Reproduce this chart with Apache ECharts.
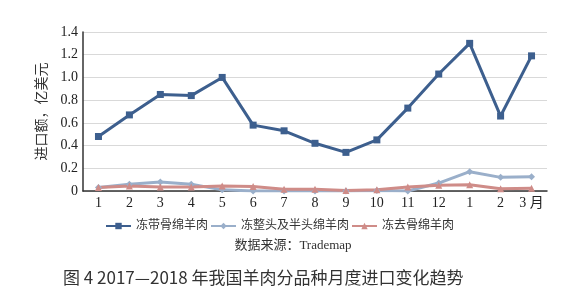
<!DOCTYPE html>
<html>
<head>
<meta charset="utf-8">
<script src="https://cdn.jsdelivr.net/npm/echarts@6/dist/echarts.min.js"></script>
<style>
  html, body { margin: 0; padding: 0; background: #fff; }
  #chart { width: 586px; height: 301px; }
</style>
</head>
<body>
<div id="chart"></div>
<script>
  // 月份 2017.1 - 2018.3
  const months = ['1', '2', '3', '4', '5', '6', '7', '8', '9', '10', '11', '12', '1', '2', '3 月'];
  const boneIn = [0.48, 0.67, 0.85, 0.84, 1.00, 0.58, 0.53, 0.42, 0.34, 0.45, 0.73, 1.03, 1.30, 0.66, 1.19];
  const wholeCarcass = [0.03, 0.06, 0.08, 0.06, 0.01, 0, 0, 0, 0, 0.005, 0, 0.07, 0.17, 0.12, 0.125];
  const boneless = [0.03, 0.045, 0.035, 0.035, 0.045, 0.04, 0.015, 0.015, 0.005, 0.01, 0.035, 0.05, 0.055, 0.02, 0.025];
  const seriesNames = ['冻带骨绵羊肉', '冻整头及半头绵羊肉', '冻去骨绵羊肉'];

  const serif = '"Liberation Serif", "Noto Sans CJK SC", serif';
  const chart = echarts.init(document.getElementById('chart'));

  const mkLine = (name, data, color, symbol) => ({
    name: name,
    type: 'line',
    data: data,
    symbol: symbol,
    symbolSize: 7,
    lineStyle: { color: color, width: 3 },
    itemStyle: { color: color },
    animation: false
  });

  chart.setOption({
    grid: { left: 83, right: 39, top: 32, bottom: 110 },
    graphic: [
      {
        type: 'text', left: 'center', top: 239,
        style: { text: '数据来源：Trademap', font: '13px ' + serif, fill: '#333' }
      },
      {
        type: 'text', left: 63, top: 269,
        style: { text: '图 4 2017—2018 年我国羊肉分品种月度进口变化趋势', font: '17px "Noto Sans CJK SC", sans-serif', fill: '#333' }
      }
    ],
    legend: {
      left: 100, top: 215,
      itemWidth: 25, itemHeight: 8, itemGap: 2,
      textStyle: { fontFamily: serif, fontSize: 12, color: '#333' },
      data: seriesNames
    },
    xAxis: {
      type: 'category',
      data: months,
      boundaryGap: true,
      axisLine: { lineStyle: { color: '#333', width: 1.5 } },
      axisTick: { show: false },
      axisLabel: { fontFamily: serif, fontSize: 14, color: '#222', margin: 5, interval: 0 }
    },
    yAxis: {
      type: 'value',
      min: 0, max: 1.4, interval: 0.2,
      name: '进口额，亿美元',
      nameLocation: 'middle',
      nameGap: 33,
      nameTextStyle: { fontFamily: serif, fontSize: 14, color: '#333' },
      axisLine: { show: true, lineStyle: { color: '#333', width: 1.5 } },
      axisTick: { show: false },
      axisLabel: {
        fontFamily: serif, fontSize: 14, color: '#222', margin: 5,
        formatter: v => v === 0 ? '0' : v.toFixed(1)
      },
      splitLine: { lineStyle: { color: '#d9d9d9' } }
    },
    series: [
      mkLine(seriesNames[0], boneIn, '#3d5f8e', 'rect'),
      mkLine(seriesNames[1], wholeCarcass, '#9aafca', 'diamond'),
      mkLine(seriesNames[2], boneless, '#cf8c88', 'triangle')
    ]
  });
</script>
</body>
</html>
